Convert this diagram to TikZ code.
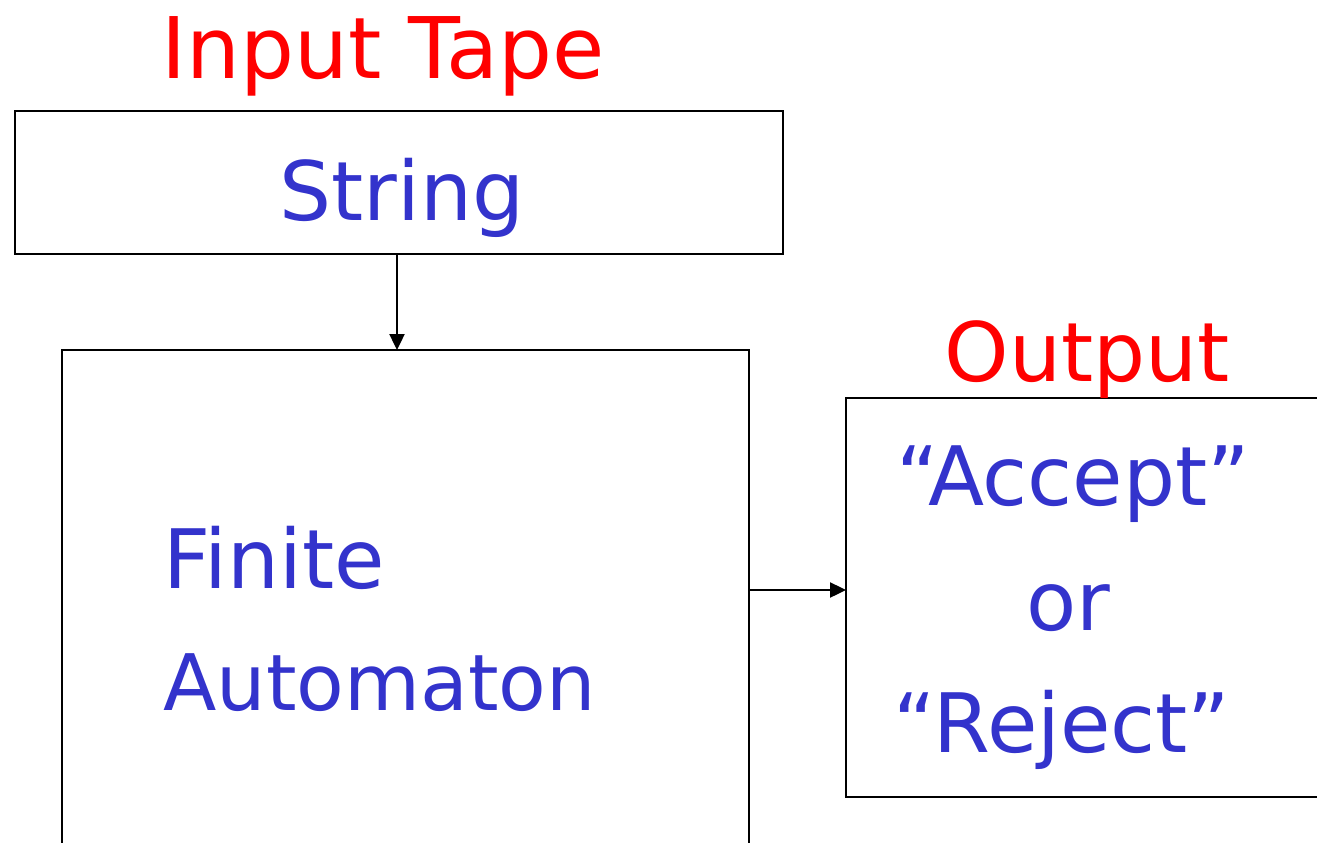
\documentclass[tikz,border=0pt]{standalone}
\usepackage{fontspec}
\setmainfont{DejaVu Sans}
\usetikzlibrary{arrows.meta}
\definecolor{tblue}{RGB}{51,51,204}
\definecolor{tred}{RGB}{255,0,0}
\begin{document}
\begin{tikzpicture}[x=1pt,y=-1pt,
  boxline/.style={draw=black,line width=2.4pt},
  conn/.style={line width=2.4pt,-{Triangle[length=16pt,width=15pt]}},
  redtxt/.style={text=tred,font=\fontsize{85}{95}\selectfont,inner sep=0pt,anchor=base},
  bluetxt/.style={text=tblue,font=\fontsize{82}{92}\selectfont,inner sep=0pt,anchor=base}]
\useasboundingbox (0,0) rectangle (1317,843);
\node[boxline,minimum width=768pt,minimum height=143pt,anchor=north west,inner sep=0pt] (tape) at (14,110) {};
\node[bluetxt] (str) at (402,220) {String};
\node[redtxt] (intape) at (383,78) {Input Tape};
\draw[boxline] (62,860) -- (62,350) coordinate (fatl) -- (749,350) coordinate (fatr) -- (749,860);
\coordinate (fatin) at (397,350);
\coordinate (fatout) at (749,590);
\draw[boxline] (1330,398) -- (846,398) coordinate (outtl) -- (846,797) coordinate (outbl) -- (1330,797);
\coordinate (outin) at (846,590);
\node[redtxt,font=\fontsize{82}{92}\selectfont] (outlbl) at (1087,381) {Output};
\node[bluetxt,anchor=base west] (fin) at (163,588) {Finite};
\node[bluetxt,anchor=base west,font=\fontsize{78}{90}\selectfont] (aut) at (163,710) {Automaton};
\node[bluetxt] (acc) at (1073,505) {“Accept”};
\node[bluetxt] (or) at (1068,630) {or};
\node[bluetxt] (rej) at (1062,752) {“Reject”};
\draw[conn] (tape.south -| fatin) -- (fatin);
\draw[conn] (fatout) -- (outin);
\end{tikzpicture}
\end{document}
